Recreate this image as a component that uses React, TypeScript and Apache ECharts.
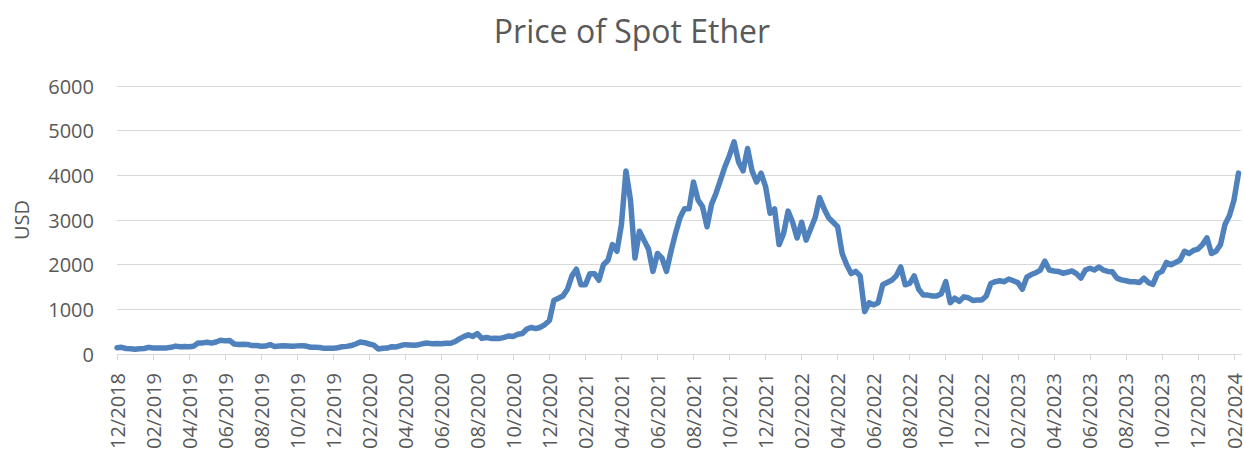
import React, { useEffect, useRef } from "react";
import * as echarts from "echarts";

// Tick labels, one every two months, starting at 12/2018
const tickLabels: string[] = [
  "12/2018", "02/2019", "04/2019", "06/2019", "08/2019", "10/2019",
  "12/2019", "02/2020", "04/2020", "06/2020", "08/2020", "10/2020",
  "12/2020", "02/2021", "04/2021", "06/2021", "08/2021", "10/2021",
  "12/2021", "02/2022", "04/2022", "06/2022", "08/2022", "10/2022",
  "12/2022", "02/2023", "04/2023", "06/2023", "08/2023", "10/2023",
  "12/2023", "02/2024",
];

// Spot ether price (USD), four readings per month
const price2019: number[] = [
  140, 150, 125, 118, 107, 118, 125, 150, 135, 136, 138, 138,
  150, 178, 163, 168, 162, 175, 245, 250, 265, 245, 270, 310,
  295, 305, 225, 215, 220, 215, 190, 190, 175, 180, 210, 170,
  178, 185, 180, 175, 183, 188, 178, 152, 150, 148, 128, 130,
];
const price2020: number[] = [
  132, 142, 165, 172, 190, 225, 270, 255, 225, 200, 115, 130,
  135, 165, 160, 190, 210, 205, 198, 210, 235, 245, 232, 238,
  230, 240, 240, 275, 340, 390, 430, 395, 460, 350, 370, 350,
  355, 350, 375, 405, 395, 445, 460, 560, 595, 570, 600, 660,
];
const price2021: number[] = [
  750, 1200, 1250, 1300, 1450, 1750, 1900, 1550, 1550, 1800, 1800, 1650,
  2000, 2100, 2450, 2300, 2900, 4100, 3450, 2150, 2750, 2550, 2350, 1850,
  2250, 2150, 1850, 2300, 2700, 3050, 3250, 3250, 3850, 3450, 3300, 2850,
  3350, 3600, 3900, 4200, 4450, 4750, 4300, 4100, 4600, 4100, 3850, 4050,
];
const price2022: number[] = [
  3750, 3150, 3250, 2450, 2700, 3200, 2950, 2600, 2950, 2550, 2800, 3050,
  3500, 3250, 3050, 2950, 2850, 2250, 2000, 1800, 1850, 1750, 950, 1150,
  1100, 1150, 1550, 1600, 1650, 1750, 1950, 1550, 1580, 1750, 1450, 1320,
  1320, 1300, 1300, 1350, 1620, 1150, 1250, 1180, 1280, 1260, 1200, 1210,
];
const price2023: number[] = [
  1210, 1300, 1580, 1620, 1640, 1620, 1680, 1640, 1600, 1450, 1720, 1780,
  1820, 1880, 2080, 1880, 1860, 1850, 1810, 1830, 1860, 1800, 1700, 1880,
  1920, 1880, 1950, 1880, 1850, 1840, 1700, 1660, 1640, 1620, 1620, 1600,
  1700, 1600, 1560, 1800, 1850, 2050, 2000, 2050, 2100, 2300, 2250, 2320,
];
const price2024: number[] = [
  2350, 2450, 2600, 2250, 2300, 2450, 2900, 3100, 3450, 4050,
];

const prices: number[] = [
  ...price2019, ...price2020, ...price2021, ...price2022, ...price2023, ...price2024,
];

const TEXT = "#595959";
const GRID = "#d9d9d9";
const FONT = "'Open Sans', 'Noto Sans', sans-serif";

export default function App() {
  const ref = useRef<HTMLDivElement>(null);

  useEffect(() => {
    document.body.style.margin = "0";
    if (!ref.current) return;
    const chart = echarts.init(ref.current, undefined, { renderer: "svg" });
    const data = prices.map((v, i) => [i / 4, v]);
    const tickValues = tickLabels.map((_, i) => i * 2);
    chart.setOption({
      animation: false,
      backgroundColor: "#ffffff",
      title: {
        text: "Price of Spot Ether",
        left: 627,
        textAlign: "center",
        top: 9,
        textStyle: {
          color: TEXT,
          fontFamily: FONT,
          fontSize: 32,
          fontWeight: "normal",
        },
      },
      grid: { left: 117, right: 0, top: 86, bottom: 96 },
      xAxis: {
        type: "value",
        min: 0,
        max: 62.4,
        interval: 2,
        splitLine: { show: false },
        axisLine: { show: true, lineStyle: { color: GRID, width: 1 } },
        axisTick: {
          show: true,
          length: 6,
          customValues: tickValues,
          lineStyle: { color: GRID, width: 1 },
        },
        axisLabel: {
          customValues: tickValues,
          rotate: 90,
          margin: 19,
          color: TEXT,
          fontFamily: FONT,
          fontSize: 20,
          formatter: (v: number) => {
            const i = Math.round(v / 2);
            return Math.abs(v - i * 2) < 1e-6 && tickLabels[i] ? tickLabels[i] : "";
          },
        },
      },
      yAxis: {
        type: "value",
        min: 0,
        max: 6000,
        interval: 1000,
        name: "USD",
        nameLocation: "middle",
        nameRotate: 90,
        nameGap: 86,
        nameTextStyle: { color: TEXT, fontFamily: FONT, fontSize: 20 },
        axisLine: { show: false },
        axisTick: { show: false },
        splitLine: { show: true, lineStyle: { color: GRID, width: 1 } },
        axisLabel: {
          margin: 23,
          color: TEXT,
          fontFamily: FONT,
          fontSize: 20,
          formatter: (v: number) => String(v),
        },
      },
      series: [
        {
          type: "line",
          data,
          showSymbol: false,
          symbol: "none",
          smooth: false,
          lineStyle: { color: "#4f81bd", width: 5.5, cap: "round", join: "round" },
          z: 3,
        },
      ],
    });
    return () => chart.dispose();
  }, []);

  return <div ref={ref} style={{ width: 1244, height: 452 }} />;
}
